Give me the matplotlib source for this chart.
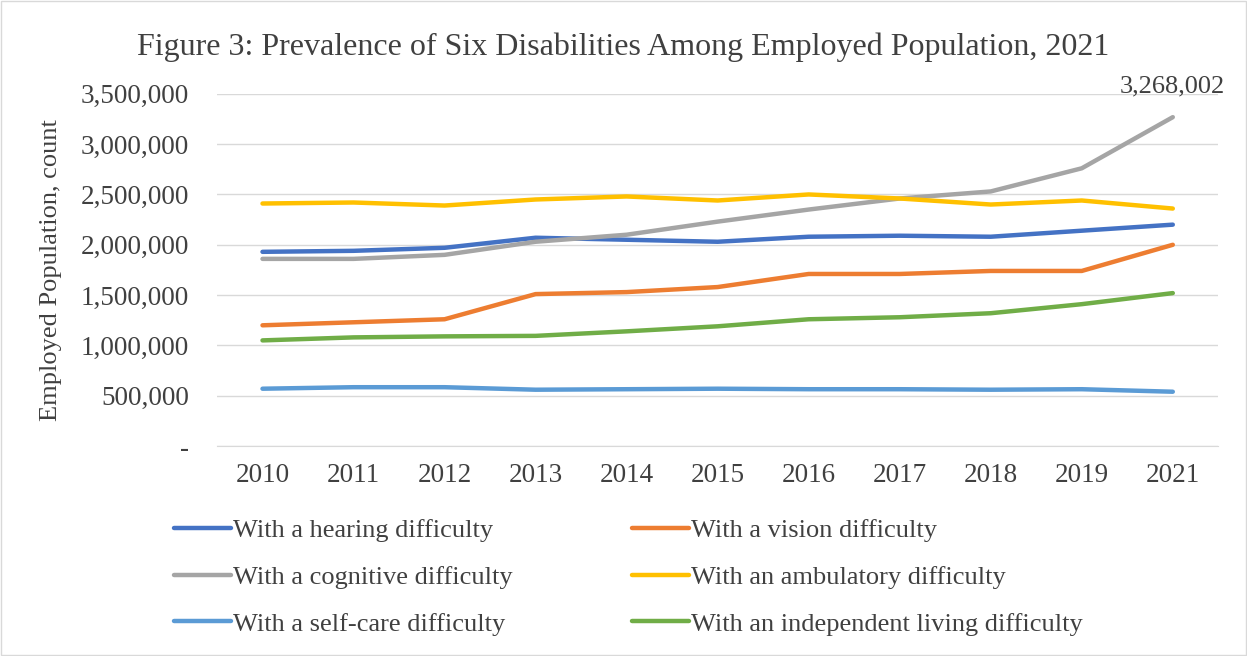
import numpy as np
import matplotlib.pyplot as plt
from matplotlib.ticker import FuncFormatter

years = ['2010', '2011', '2012', '2013', '2014', '2015', '2016', '2017', '2018', '2019', '2021']
hearing = [1930000, 1940000, 1970000, 2070000, 2050000, 2030000, 2080000, 2090000, 2080000, 2140000, 2200000]
vision = [1200000, 1230000, 1260000, 1510000, 1530000, 1580000, 1710000, 1710000, 1740000, 1740000, 2000000]
cognitive = [1860000, 1860000, 1900000, 2030000, 2100000, 2230000, 2350000, 2460000, 2530000, 2760000, 3268002]
ambulatory = [2410000, 2420000, 2390000, 2450000, 2480000, 2440000, 2500000, 2460000, 2400000, 2440000, 2360000]
selfcare = [570000, 585000, 585000, 560000, 565000, 570000, 565000, 565000, 560000, 565000, 540000]
independent = [1050000, 1080000, 1090000, 1095000, 1140000, 1190000, 1260000, 1280000, 1320000, 1410000, 1520000]

labels = ['With a hearing difficulty', 'With a vision difficulty',
          'With a cognitive difficulty', 'With an ambulatory difficulty',
          'With a self-care difficulty', 'With an independent living difficulty']
colors = ['#4472C4', '#ED7D31', '#A5A5A5', '#FFC000', '#5B9BD5', '#70AD47']

plt.rcParams['font.family'] = ['Liberation Serif', 'DejaVu Serif']
txt = '#404040'

fig = plt.figure(figsize=(12.47, 6.56), dpi=100)
ax = fig.add_axes([0.174, 0.32, 0.803, 0.537])

x = np.arange(len(years))
series = [hearing, vision, cognitive, ambulatory, selfcare, independent]
handles = []
for s, lab, c in zip(series, labels, colors):
    h, = ax.plot(x, s, color=c, lw=3.2, label=lab, solid_capstyle='round')
    handles.append(h)

ax.annotate(f'{cognitive[-1]:,}', (x[-1], cognitive[-1]), xytext=(0, 14),
            textcoords='offset points', ha='center', va='bottom', fontsize=19, color=txt)

ax.set_xlim(-0.5, len(years) - 0.5)
ax.set_ylim(0, 3500000)
ax.set_yticks(np.arange(0, 3500001, 500000))
ax.yaxis.set_major_formatter(FuncFormatter(lambda v, p: '-' if v == 0 else f'{int(v):,}'))
ax.set_xticks(x)
ax.set_xticklabels(years)
ax.tick_params(axis='both', length=0, labelsize=19.5, colors=txt)
ax.tick_params(axis='x', pad=12)
ax.tick_params(axis='y', pad=20)
ax.grid(axis='y', color='#D9D9D9', lw=1)
ax.set_axisbelow(True)
for sp in ['top', 'right', 'left']:
    ax.spines[sp].set_visible(False)
ax.spines['bottom'].set_color('#D9D9D9')
ax.set_ylabel('Employed Population, count', fontsize=19, color=txt, labelpad=10)
ax.yaxis.set_label_coords(-0.155, 0.5)

fig.text(0.5, 0.928, 'Figure 3: Prevalence of Six Disabilities Among Employed Population, 2021',
         ha='center', va='center', fontsize=23, color=txt)

# matplotlib fills legend columns first, so reorder to read row by row
order = [0, 2, 4, 1, 3, 5]
leg = fig.legend([handles[i] for i in order], [labels[i] for i in order],
                 loc='center', bbox_to_anchor=(0.504, 0.12), ncol=2,
                 frameon=False, fontsize=19, handlelength=2.15, columnspacing=4.5,
                 labelspacing=0.88, handletextpad=0.1, labelcolor=txt)

fig.patches.append(plt.Rectangle((0.001, 0.001), 0.998, 0.997, transform=fig.transFigure,
                                 fill=False, edgecolor='#D9D9D9', lw=1))

fig.savefig('out.png', dpi=100)
